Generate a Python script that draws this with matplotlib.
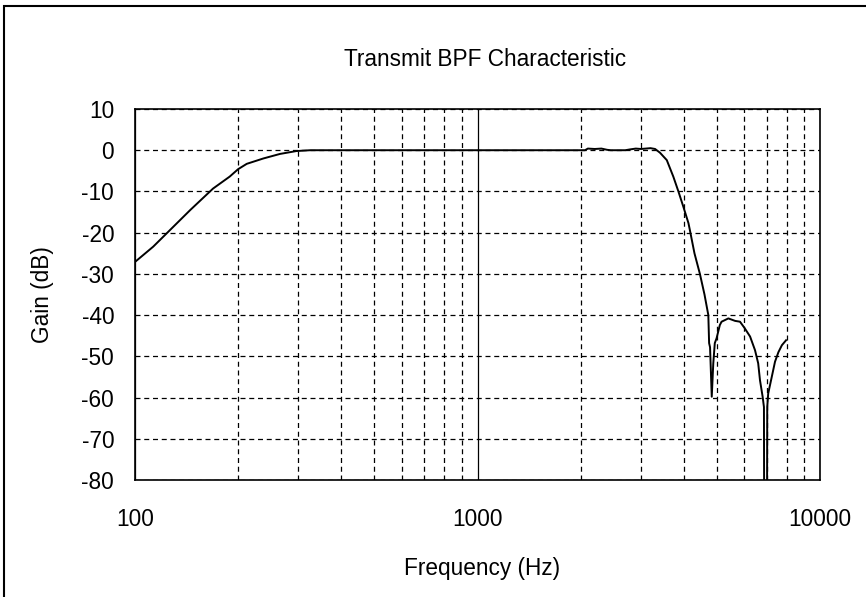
import matplotlib.pyplot as plt
from matplotlib.patches import Rectangle
from matplotlib.ticker import FixedLocator, NullFormatter

plt.rcParams["font.family"] = ["Liberation Sans", "DejaVu Sans"]

# frequency response
freq_hz = [100, 113, 125, 145, 169, 189, 200, 212, 237, 265, 296, 325, 1000,
           2000, 2060, 2100, 2200, 2300, 2390, 2450, 2700, 2790, 2900, 3000,
           3100, 3200, 3300, 3410, 3570, 3730, 3860, 3990, 4130, 4170, 4300,
           4460, 4600, 4720, 4745, 4775, 4830, 4880, 4930, 4990, 5100, 5160,
           5400, 5650, 5840, 6030, 6250, 6460, 6600, 6680, 6800, 6860, 6875,
           7000, 7014, 7060, 7230, 7390, 7560, 7740, 7960]
gain_db = [-27.1, -23.4, -19.8, -14.5, -9.3, -6.4, -4.6, -3.3, -2.0, -0.9, -0.2, 0.0, 0.0,
           0.0, 0.0, 0.4, 0.3, 0.4, 0.1, 0.0, 0.0, 0.2, 0.4, 0.3,
           0.4, 0.5, 0.3, -0.6, -2.4, -6.4, -10.0, -13.7, -17.7, -19.4, -25.0,
           -30.0, -35.0, -40.0, -46.8, -47.8, -59.8, -51.7, -46.8, -45.6, -42.4, -41.6,
           -40.8, -41.4, -41.6, -43.2, -45.2, -48.5, -51.7, -55.8, -59.8, -62.3, -100.0,
           -100.0, -62.3, -59.0, -55.0, -51.3, -49.0, -47.3, -46.1]

x_major = [100, 1000, 10000]
x_minor = [200, 300, 400, 500, 600, 700, 800, 900,
           2000, 3000, 4000, 5000, 6000, 7000, 8000, 9000]
y_ticks = list(range(-80, 11, 10))

fig = plt.figure(figsize=(8.66, 5.97), dpi=100)
fig.patches.append(Rectangle((4 / 866, -0.1), 1.2, 1.1 - 6 / 597, transform=fig.transFigure,
                             fill=False, edgecolor="black", linewidth=1.5))
ax = fig.add_axes([135 / 866, 1 - 480 / 597, 685 / 866, 371 / 597])

ax.plot(freq_hz, gain_db, color="black", linewidth=1.4)
ax.set_xscale("log")
ax.set_xlim(100, 10000)
ax.set_ylim(-80, 10)

ax.xaxis.set_major_locator(FixedLocator(x_major))
ax.xaxis.set_minor_locator(FixedLocator(x_minor))
ax.xaxis.set_minor_formatter(NullFormatter())
ax.set_xticklabels([str(v) for v in x_major])
ax.set_yticks(y_ticks)
ax.set_yticklabels([str(v) for v in y_ticks])

ax.grid(which="minor", axis="x", color="black", linestyle=(0, (4, 3)), linewidth=0.9)
ax.grid(which="major", axis="x", color="black", linestyle="-", linewidth=0.9)
ax.grid(which="major", axis="y", color="black", linestyle=(0, (4, 3)), linewidth=0.9)

ax.tick_params(which="both", length=0, labelsize=16.3)
ax.tick_params(axis="y", pad=15)
ax.tick_params(axis="x", pad=20)
for s in ax.spines.values():
    s.set_linewidth(1.2)
    s.set_color("black")

fig.text(485 / 866, 1 - 60 / 597, "Transmit BPF Characteristic", ha="center", va="center", fontsize=16.3)
fig.text(482 / 866, 1 - 569 / 597, "Frequency (Hz)", ha="center", va="center", fontsize=16.3)
fig.text(42 / 866, 1 - 295 / 597, "Gain (dB)", ha="center", va="center", rotation=90, fontsize=16.3)

fig.savefig("out.png", dpi=100)
